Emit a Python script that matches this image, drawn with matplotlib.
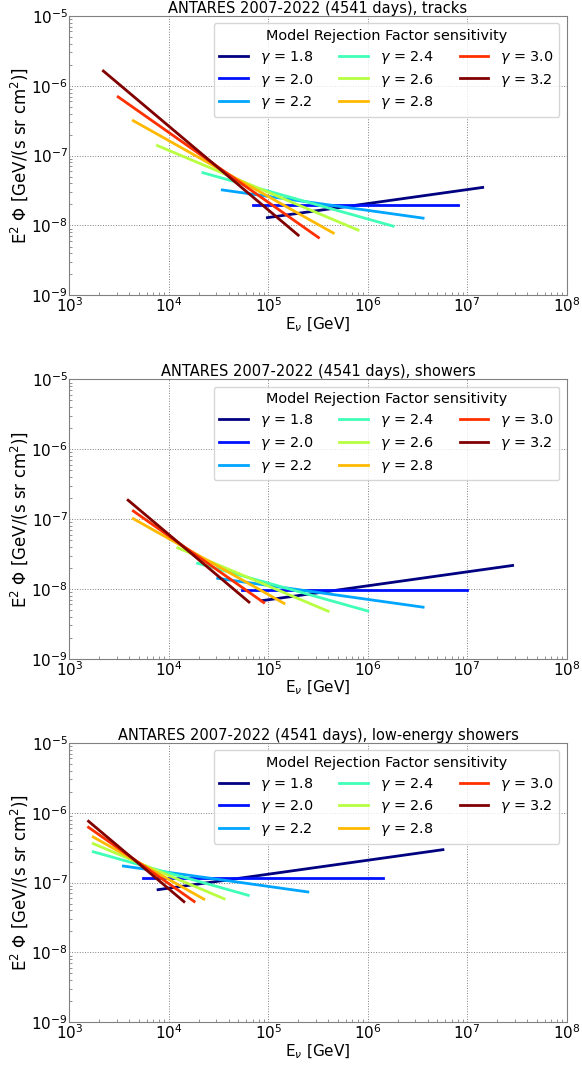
"""
MRF sensitivities of the ANTARES 2007-2022 samples for power-law spectra.
"""
import matplotlib.pyplot as plt
import numpy as np

GAMMAS = [1.8, 2.0, 2.2, 2.4, 2.6, 2.8, 3.0, 3.2]
E_PIVOT = 1e5  # GeV, normalisation energy of E^2 Phi

# per sample: E^2 Phi at the pivot [GeV/(s sr cm2)], and energy range [GeV]
TRACKS_NORM = [1.30e-8, 1.95e-8, 2.61e-8, 3.11e-8, 2.99e-8, 2.60e-8, 2.15e-8, 1.67e-8]
TRACKS_EMIN = [9.8e4, 7.0e4, 3.45e4, 2.2e4, 7.7e3, 4.4e3, 3.1e3, 2.2e3]
TRACKS_EMAX = [1.43e7, 8.0e6, 3.6e6, 1.8e6, 8.0e5, 4.5e5, 3.2e5, 2.0e5]

SHOWERS_NORM = [6.98e-9, 9.6e-9, 1.12e-8, 1.21e-8, 1.10e-8, 8.30e-9, 5.73e-9, 3.79e-9]
SHOWERS_EMIN = [8.6e4, 5.5e4, 3.1e4, 1.95e4, 1.23e4, 4.4e3, 4.4e3, 3.9e3]
SHOWERS_EMAX = [2.86e7, 1.0e7, 3.6e6, 1.0e6, 4.0e5, 1.44e5, 9.0e4, 6.4e4]

LOWE_NORM = [1.32e-7, 1.17e-7, 8.83e-8, 5.47e-8, 3.18e-8, 1.76e-8, 9.66e-9, 5.13e-9]
LOWE_EMIN = [7.8e3, 5.5e3, 3.5e3, 1.74e3, 1.74e3, 1.74e3, 1.56e3, 1.56e3]
LOWE_EMAX = [5.7e6, 1.43e6, 2.5e5, 6.3e4, 3.6e4, 2.25e4, 1.8e4, 1.42e4]

SAMPLES = [
    ("tracks", TRACKS_NORM, TRACKS_EMIN, TRACKS_EMAX),
    ("showers", SHOWERS_NORM, SHOWERS_EMIN, SHOWERS_EMAX),
    ("low-energy showers", LOWE_NORM, LOWE_EMIN, LOWE_EMAX),
]


if __name__ == "__main__":
    colors = plt.cm.jet(np.linspace(0, 1, len(GAMMAS)))

    fig = plt.figure(figsize=(5.82, 10.65), dpi=100)
    bottoms = [0.7227, 0.3815, 0.0401]

    for (name, norm, emin, emax), bottom in zip(SAMPLES, bottoms):
        ax = fig.add_axes([0.1191, bottom, 0.8546, 0.2623])
        for gamma, phi0, lo, hi, color in zip(GAMMAS, norm, emin, emax, colors):
            energy = np.array([lo, hi])
            ax.plot(
                energy,
                phi0 * (energy / E_PIVOT) ** (2 - gamma),
                color=color,
                lw=2,
                label=rf"$\gamma$ = {gamma:.1f}",
            )

        ax.set_xscale("log")
        ax.set_yscale("log")
        ax.set_xlim(1e3, 1e8)
        ax.set_ylim(1e-9, 1e-5)
        ax.set_title(f"ANTARES 2007-2022 (4541 days), {name}", fontsize=10.5, pad=1.5)
        ax.set_xlabel(r"E$_\nu$ [GeV]", fontsize=11, labelpad=0)
        ax.set_ylabel(r"E$^2$ $\Phi$ [GeV/(s sr cm$^2$)]", fontsize=12, labelpad=1)
        ax.tick_params(which="both", direction="in", labelsize=11, pad=1,
                       color="gray")
        ax.tick_params(which="major", length=0)
        ax.tick_params(which="minor", length=2)
        for spine in ax.spines.values():
            spine.set_color("gray")
        ax.grid(which="major", ls=":", color="gray", lw=0.7)
        ax.legend(
            title="Model Rejection Factor sensitivity",
            ncol=3,
            loc="upper right",
            fontsize=10.4,
            title_fontsize=10.4,
            handlelength=2.0,
            columnspacing=1.8,
            labelspacing=0.4,
            borderaxespad=0.5,
        )

    plt.savefig("out.png", dpi=100)
